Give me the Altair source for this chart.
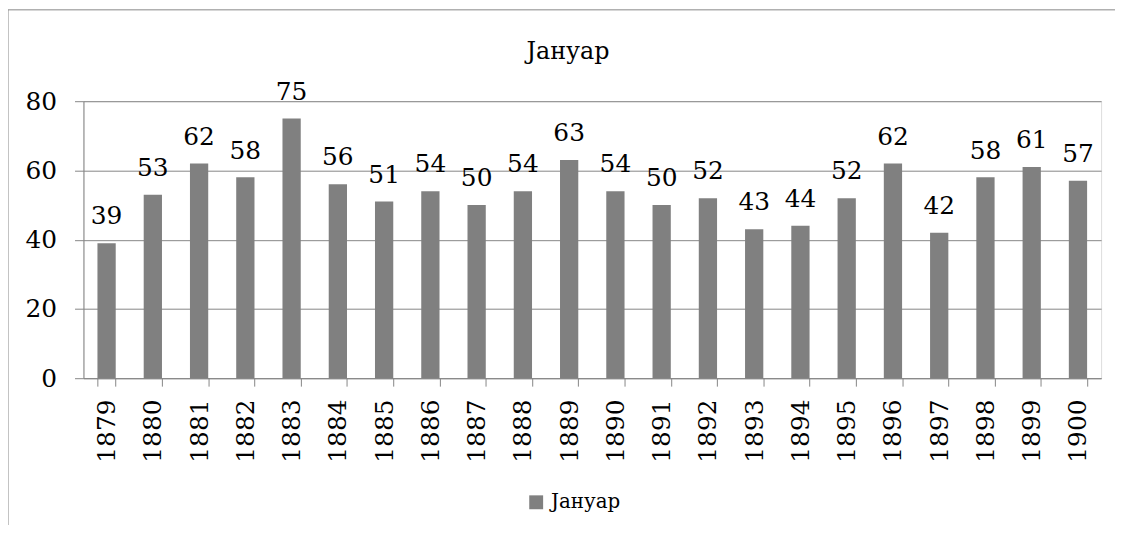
import altair as alt
import pandas as pd

years = ["1879", "1880", "1881", "1882", "1883", "1884", "1885", "1886", "1887", "1888", "1889",
         "1890", "1891", "1892", "1893", "1894", "1895", "1896", "1897", "1898", "1899", "1900"]
values = [39, 53, 62, 58, 75, 56, 51, 54, 50, 54, 63, 54, 50, 52, 43, 44, 52, 62, 42, 58, 61, 57]
series_name = "Јануар"

df = pd.DataFrame({"year": years, "value": values, "series": [series_name] * len(years)})
one = pd.DataFrame({"t": [series_name]})

FONT = "DejaVu Serif"
GRID = "#868686"

x_enc = alt.X(
    "year:O",
    sort=years,
    scale=alt.Scale(paddingInner=0.605, paddingOuter=0.3025),
    axis=alt.Axis(
        title=None, labelAngle=-90, labelAlign="right", labelBaseline="middle",
        tickBand="extent", grid=False, domainColor=GRID, tickColor=GRID,
        tickSize=8, labelPadding=13, labelFontSize=25, labelFont=FONT,
        labelColor="black",
    ),
)
y_enc = alt.Y(
    "value:Q",
    scale=alt.Scale(domain=[0, 80], nice=False),
    axis=alt.Axis(
        title=None, values=[0, 20, 40, 60, 80], grid=True, gridColor=GRID,
        domainColor=GRID, tickColor=GRID, tickSize=9, labelPadding=18,
        labelFontSize=25, labelFont=FONT, labelColor="black",
    ),
)

base = alt.Chart(df)

bars = base.mark_bar(color="#808080").encode(
    x=x_enc,
    y=y_enc,
    color=alt.Color(
        "series:N",
        scale=alt.Scale(range=["#808080"]),
        legend=alt.Legend(
            orient="none", legendX=446, legendY=394, title=None,
            symbolType="square", symbolSize=196, symbolStrokeWidth=0,
            labelFontSize=20, labelFont=FONT, labelColor="black",
            labelOffset=5, padding=0,
        ),
    ),
)

labels = base.mark_text(
    baseline="alphabetic", dy=-19, fontSize=25, font=FONT, color="black"
).encode(x=alt.X("year:O", sort=years), y="value:Q", text="value:Q")

title = alt.Chart(one).mark_text(
    baseline="alphabetic", align="center", fontSize=24, font=FONT, color="black"
).encode(x=alt.value(488), y=alt.value(-43), text="t:N")

frame_top = alt.Chart(one).mark_rule(color=GRID, strokeWidth=1).encode(
    x=alt.value(-76), x2=alt.value(1200), y=alt.value(-92)
)
frame_left = alt.Chart(one).mark_rule(color=GRID, strokeWidth=1).encode(
    x=alt.value(-76), y=alt.value(-92), y2=alt.value(600)
)

chart = alt.layer(frame_top, frame_left, bars, labels, title).properties(
    width=1025,
    height=279,
    autosize=alt.AutoSizeParams(type="none"),
    padding={"left": 76, "top": 92, "right": 14, "bottom": 146},
).configure_view(stroke=None).configure(background="white")

chart.save("out.html", embed_options={"renderer": "svg", "actions": False})
